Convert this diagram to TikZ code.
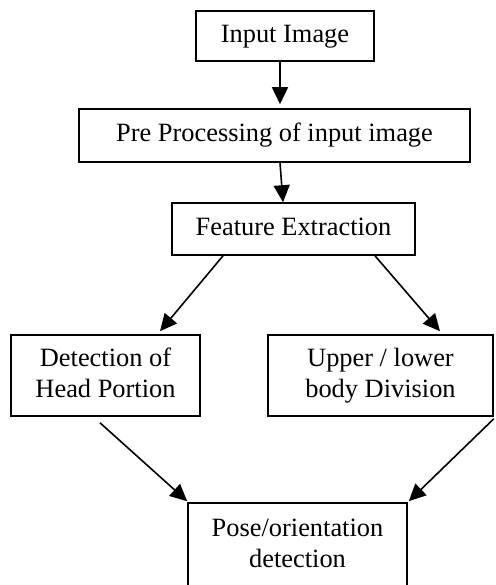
\documentclass[tikz,border=0pt]{standalone}
\usepackage{fontspec}
\setmainfont{Liberation Serif}
\usetikzlibrary{arrows.meta}

\begin{document}
\begin{tikzpicture}[x=0.5pt,y=-0.5pt,line width=0.8pt,
  blk/.style={draw,align=center,inner sep=0pt,font=\fontsize{13.2}{15.5}\selectfont},
  arr/.style={-{Triangle[width=8pt,length=8.5pt]}}]
\useasboundingbox (0,0) rectangle (495,585);
\clip (0,0) rectangle (495,585);
\node[blk,minimum width=89pt,minimum height=25pt] (input) at (285,36) {\strut Input Image};
\node[blk,minimum width=195.5pt,minimum height=26.5pt] (pre) at (274.5,135.5) {\strut Pre Processing of input image};
\node[blk,minimum width=121.5pt,minimum height=26pt] (feat) at (293.5,229) {\strut Feature Extraction};
\node[blk,minimum width=94.5pt,minimum height=40.5pt] (head) at (105.5,375.5) {\strut Detection of\\\strut Head Portion};
\node[blk,minimum width=112.5pt,minimum height=40.5pt] (body) at (380.5,375.5) {\strut Upper / lower\\\strut body Division};
\node[blk,minimum width=109.5pt,minimum height=43pt] (pose) at (297.5,546) {\strut Pose/orientation\\\strut detection};
% arrows
\draw[arr] ([xshift=-2.5pt]input.south) -- ([xshift=2.75pt,yshift=2pt]pre.north);
\draw[arr] ([xshift=2.75pt]pre.south) -- ([xshift=-5.25pt]feat.north);
\draw[arr] ([xshift=-35.25pt]feat.south) -- ([xshift=27.25pt,yshift=1.5pt]head.north);
\draw[arr] ([xshift=40.75pt]feat.south) -- ([xshift=29.75pt,yshift=1.5pt]body.north);
\draw[arr] ([xshift=-2.75pt,yshift=-3pt]head.south) -- ([yshift=0.5pt]pose.north west);
\draw[arr] ([yshift=-1pt]body.south east) -- ([xshift=0.5pt,yshift=0.5pt]pose.north east);
\end{tikzpicture}
\end{document}
